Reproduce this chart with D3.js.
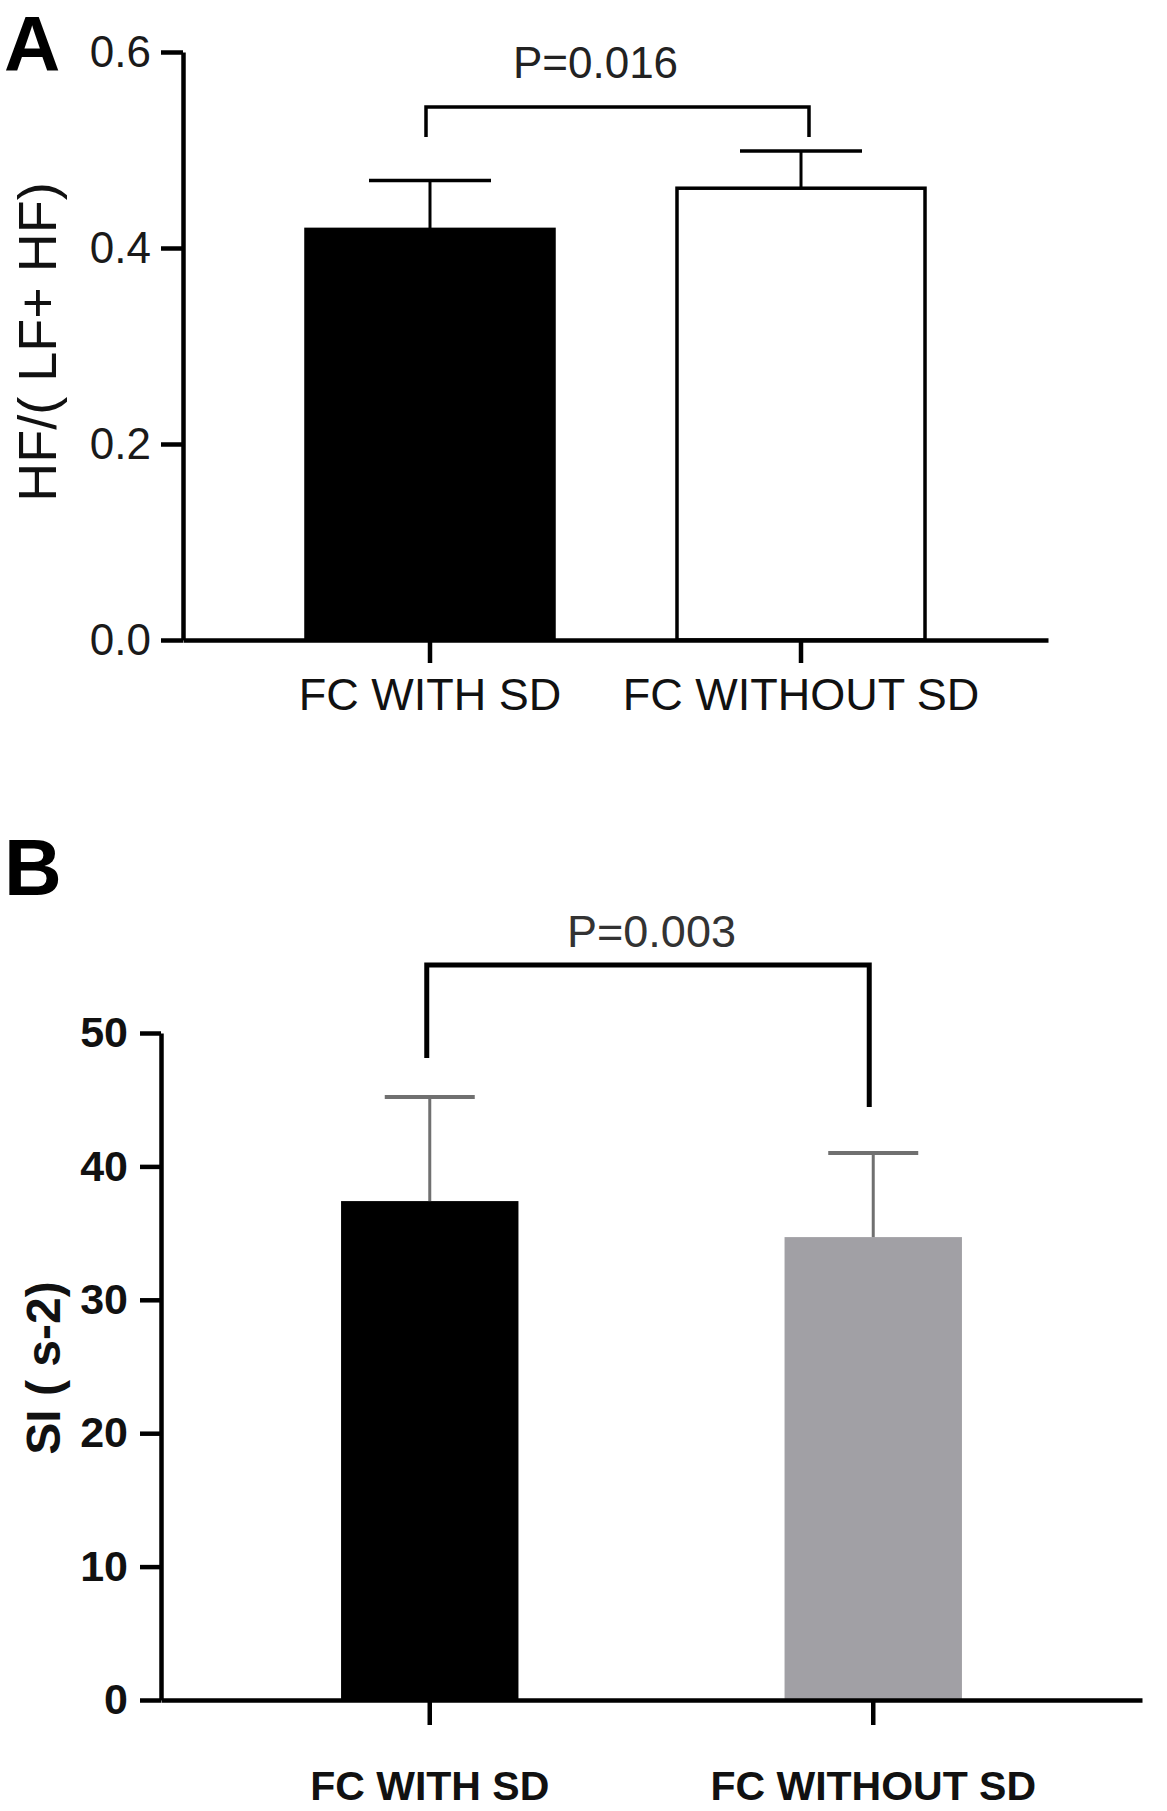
<!DOCTYPE html>
<html>
<head>
<meta charset="utf-8">
<script src="https://cdnjs.cloudflare.com/ajax/libs/d3/7.8.5/d3.min.js"></script>
<style>
  body { margin: 0; background: #fff; }
  text { font-family: "Liberation Sans", Arial, sans-serif; }
</style>
</head>
<body>
<div id="chart"></div>
<script>
// panel A: HF/(LF+HF)
var catsA = ["FC WITH SD", "FC WITHOUT SD"];
var meanA = [0.419, 0.461];
var sdA = [0.050, 0.038];
var ticksA = [0.0, 0.2, 0.4, 0.6];
var pA = "P=0.016";

// panel B: SI (s-2)
var catsB = ["FC WITH SD", "FC WITHOUT SD"];
var meanB = [37.4, 34.7];
var sdB = [7.8, 6.3];
var ticksB = [0, 10, 20, 30, 40, 50];
var pB = "P=0.003";

var svg = d3.select("#chart").append("svg")
  .attr("width", 1167)
  .attr("height", 1811);

// ---------- A ----------
var xA = d3.scaleBand().domain(catsA).range([183, 1048]).padding(0.3315);
var yA = d3.scaleLinear().domain([0, 0.6]).range([640, 52]);

svg.append("text").attr("x", 4).attr("y", 71)
  .attr("font-size", 78).attr("font-weight", "bold").text("A");

var gA = svg.append("g");

gA.selectAll("rect.bar")
  .data(catsA)
  .enter().append("rect")
  .attr("class", "bar")
  .attr("x", function(d){ return xA(d); })
  .attr("y", function(d, i){ return yA(meanA[i]); })
  .attr("width", xA.bandwidth())
  .attr("height", function(d, i){ return yA(0) - yA(meanA[i]); })
  .attr("fill", function(d, i){ return i == 0 ? "#000" : "#fff"; })
  .attr("stroke", "#000")
  .attr("stroke-width", 3.5);

var errA = gA.selectAll("g.err").data(catsA).enter().append("g");
errA.append("line")
  .attr("x1", function(d){ return xA(d) + xA.bandwidth() / 2; })
  .attr("x2", function(d){ return xA(d) + xA.bandwidth() / 2; })
  .attr("y1", function(d, i){ return yA(meanA[i]); })
  .attr("y2", function(d, i){ return yA(meanA[i] + sdA[i]); })
  .attr("stroke", "#000").attr("stroke-width", 3);
errA.append("line")
  .attr("x1", function(d){ return xA(d) + xA.bandwidth() / 2 - 61; })
  .attr("x2", function(d){ return xA(d) + xA.bandwidth() / 2 + 61; })
  .attr("y1", function(d, i){ return yA(meanA[i] + sdA[i]); })
  .attr("y2", function(d, i){ return yA(meanA[i] + sdA[i]); })
  .attr("stroke", "#000").attr("stroke-width", 3.5);

var axLA = gA.append("g").attr("transform", "translate(183,0)")
  .call(d3.axisLeft(yA).tickValues(ticksA).tickSize(22).tickSizeOuter(0).tickPadding(10)
    .tickFormat(d3.format(".1f")));
var axBA = gA.append("g").attr("transform", "translate(0,640)")
  .call(d3.axisBottom(xA).tickSize(23).tickSizeOuter(0).tickPadding(15));

axLA.selectAll("text").attr("font-size", 44).attr("fill", "#1a1a1a")
  .attr("font-family", "Liberation Sans, Arial, sans-serif");
axBA.selectAll("text").attr("font-size", 45).attr("fill", "#111")
  .attr("font-family", "Liberation Sans, Arial, sans-serif");
gA.selectAll(".domain, .tick line").attr("stroke", "#000").attr("stroke-width", 4.5);

svg.append("text")
  .attr("transform", "translate(56,342) rotate(-90)")
  .attr("text-anchor", "middle")
  .attr("font-size", 54).attr("fill", "#111")
  .text("HF/( LF+ HF)");

// significance bracket A
var cA = catsA.map(function(d){ return xA(d) + xA.bandwidth() / 2; });
gA.append("path")
  .attr("d", d3.line()([[cA[0] - 4, 137], [cA[0] - 4, 107], [cA[1] + 8, 107], [cA[1] + 8, 137]]))
  .attr("fill", "none").attr("stroke", "#000").attr("stroke-width", 3.5);
gA.append("text")
  .attr("x", (cA[0] + cA[1]) / 2 - 20).attr("y", 78)
  .attr("text-anchor", "middle").attr("font-size", 44).attr("fill", "#222")
  .text(pA);

// ---------- B ----------
var xB = d3.scaleBand().domain(catsB).range([161, 1142]).paddingInner(0.6).paddingOuter(0.406);
var yB = d3.scaleLinear().domain([0, 50]).range([1700, 1033]);

svg.append("text").attr("x", 4).attr("y", 895)
  .attr("font-size", 80).attr("font-weight", "bold").text("B");

var gB = svg.append("g");

gB.selectAll("rect.bar")
  .data(catsB)
  .enter().append("rect")
  .attr("class", "bar")
  .attr("x", function(d){ return xB(d); })
  .attr("y", function(d, i){ return yB(meanB[i]); })
  .attr("width", xB.bandwidth())
  .attr("height", function(d, i){ return yB(0) - yB(meanB[i]); })
  .attr("fill", function(d, i){ return i == 0 ? "#000" : "#a1a0a5"; });

var errB = gB.selectAll("g.err").data(catsB).enter().append("g");
errB.append("line")
  .attr("x1", function(d){ return xB(d) + xB.bandwidth() / 2; })
  .attr("x2", function(d){ return xB(d) + xB.bandwidth() / 2; })
  .attr("y1", function(d, i){ return yB(meanB[i]); })
  .attr("y2", function(d, i){ return yB(meanB[i] + sdB[i]); })
  .attr("stroke", "#707070").attr("stroke-width", 3);
errB.append("line")
  .attr("x1", function(d){ return xB(d) + xB.bandwidth() / 2 - 45; })
  .attr("x2", function(d){ return xB(d) + xB.bandwidth() / 2 + 45; })
  .attr("y1", function(d, i){ return yB(meanB[i] + sdB[i]); })
  .attr("y2", function(d, i){ return yB(meanB[i] + sdB[i]); })
  .attr("stroke", "#707070").attr("stroke-width", 4);

var axLB = gB.append("g").attr("transform", "translate(161,0)")
  .call(d3.axisLeft(yB).tickValues(ticksB).tickSize(21).tickSizeOuter(0).tickPadding(12));
var axBB = gB.append("g").attr("transform", "translate(0,1700)")
  .call(d3.axisBottom(xB).tickSize(25).tickSizeOuter(0).tickPadding(46));

axLB.selectAll("text").attr("font-size", 43).attr("font-weight", "bold").attr("fill", "#111")
  .attr("font-family", "Liberation Sans, Arial, sans-serif");
axBB.selectAll("text").attr("font-size", 41).attr("font-weight", "bold").attr("fill", "#111")
  .attr("font-family", "Liberation Sans, Arial, sans-serif");
gB.selectAll(".domain, .tick line").attr("stroke", "#000").attr("stroke-width", 4.5);

svg.append("text")
  .attr("transform", "translate(60,1368) rotate(-90)")
  .attr("text-anchor", "middle")
  .attr("font-size", 48).attr("font-weight", "bold").attr("fill", "#111")
  .text("SI ( s-2)");

// significance bracket B
var cB = catsB.map(function(d){ return xB(d) + xB.bandwidth() / 2; });
gB.append("path")
  .attr("d", d3.line()([[cB[0] - 3, 1058], [cB[0] - 3, 965], [cB[1] - 4, 965], [cB[1] - 4, 1107]]))
  .attr("fill", "none").attr("stroke", "#000").attr("stroke-width", 5);
gB.append("text")
  .attr("x", (cB[0] + cB[1]) / 2).attr("y", 947)
  .attr("text-anchor", "middle").attr("font-size", 45).attr("fill", "#333")
  .text(pB);
</script>
</body>
</html>
